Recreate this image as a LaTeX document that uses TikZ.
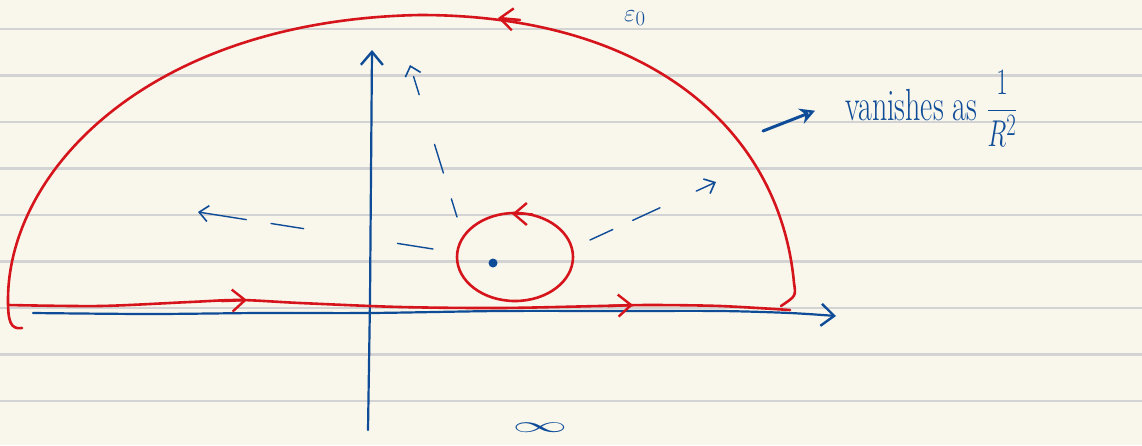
\documentclass[tikz,border=0pt]{standalone}
\usepackage{amsmath}
\usetikzlibrary{arrows.meta}
\definecolor{paper}{HTML}{F9F7EC}
\definecolor{rule}{HTML}{D3D3D3}
\definecolor{pen}{HTML}{0F4C97}
\definecolor{ink}{HTML}{D5141B}
\tikzset{
  every node/.style={text=pen},
  contour/.style={draw=ink, line width=2.6pt, line cap=round, line join=round},
  axis/.style={draw=pen, line width=2.2pt, line cap=round},
  ray/.style={draw=pen, line width=1.4pt, line cap=round},
  bigtip/.style={-{Straight Barb[length=13pt,width=22pt,line width=2.4pt]}},
  smalltip/.style={-{Straight Barb[length=9pt,width=16pt,line width=1.6pt]}},
  hand/.style={font=\fontsize{30}{32}\selectfont, inner sep=0pt},
}

\begin{document}
\begin{tikzpicture}[x=1pt,y=-1pt]

% ---------------- paper ----------------
\clip (0,0) rectangle (1142,445);
\fill[paper] (0,0) rectangle (1142,445);
\foreach \k in {0,...,8}
  \draw[rule, line width=2.5pt] (0,29+46.5*\k) -- (1142,29+46.5*\k);

% ---------------- axes ----------------
\coordinate (xl) at (33,313);
\coordinate (xr) at (836,316);
\coordinate (yb) at (368,430);
\coordinate (yt) at (372,50);
\draw[axis, bigtip] plot[smooth] coordinates
  {(xl) (150,314) (260,313) (370,313) (500,311) (620,311) (720,311) (790,313) (xr)};
\draw[axis, bigtip] (yb) -- (370,300) -- (yt);

% ---------------- contour ----------------
\draw[contour] (22,328) .. controls (10,330) and (8,320) .. (8,300)
  .. controls (8,170) and (150,20) .. (420,15)
  .. controls (650,15) and (780,130) .. (794,283)
  .. controls (796,296) .. (781,306);
\draw[contour] plot[smooth] coordinates
  {(8,305) (100,306) (190,302) (240,300) (300,303) (400,307) (500,308)
   (600,306) (650,305) (720,306) (790,310)};
\draw[contour, bigtip] (222,301) -- (247,300);
\draw[contour, bigtip] (608,306) -- (633,305);
\draw[contour, bigtip] (520,20) -- (498,18);

% small circle round the pole
\coordinate (pole) at (493,263);
\draw[contour] (515,257) ellipse [x radius=58, y radius=44];
\draw[contour, bigtip] (532,214) -- (512,214);
\fill[pen] (pole) circle (4.5);

% ---------------- field lines ----------------
\coordinate (up) at (410,65);
\coordinate (lt) at (198,212);
\coordinate (rt) at (716,182);
\draw[ray, smalltip, dash pattern=on 19pt off 27pt on 30pt off 52pt] (457,217) -- (up);
\draw[ray, smalltip, dash pattern=on 36pt off 95pt on 33pt off 25pt on 30pt off 0pt] (433,249) -- (lt);
\draw[ray, smalltip, dash pattern=on 25pt off 22pt on 30pt off 40pt] (590,240) -- (rt);

% ---------------- labels ----------------
\node[hand, anchor=base west] (vanish) at (845,120)
  {\scalebox{1}[1.5]{vanishes as $\dfrac{1}{R^2}$}};
\coordinate (ptr) at (763,131);
\draw[axis, line width=3pt, -{Stealth[length=15pt,width=16pt,open]}]
  (ptr) -- ([xshift=-30pt,yshift=-2pt]vanish.west);
\node[hand, anchor=base west] (eps) at (624,21) {$\varepsilon_0$};
\node[hand] (inf) at (540,428) {\scalebox{2.2}[0.9]{$\infty$}};

\end{tikzpicture}
\end{document}
